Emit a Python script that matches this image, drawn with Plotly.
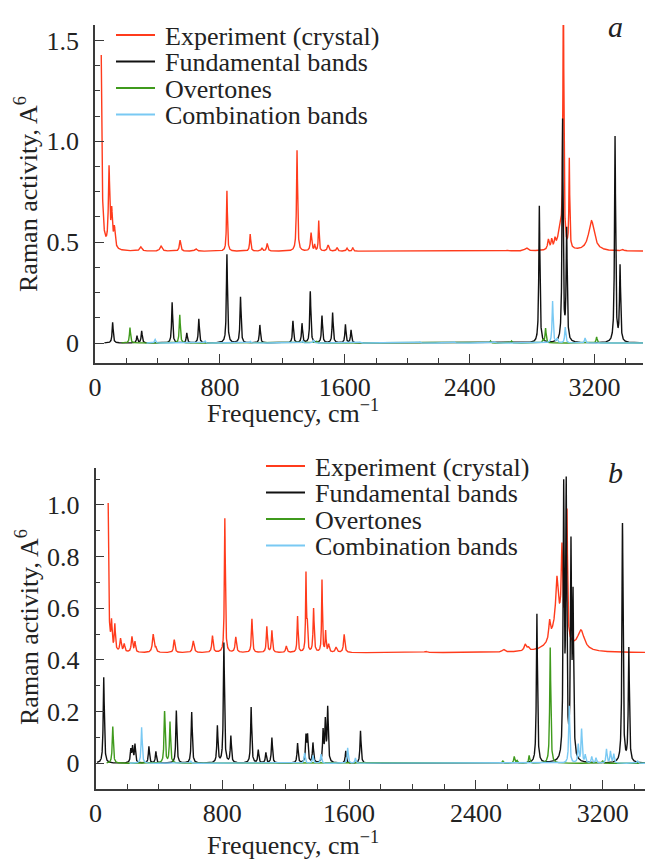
import numpy as np
import plotly.graph_objects as go

# ---------------- data ----------------
SERIES = ["Experiment (crystal)", "Fundamental bands", "Overtones", "Combination bands"]
COLORS = ["#ff3b1c", "#111111", "#3f9a1c", "#79c9f3"]

# Panel a -- experiment: peak position (cm-1), height above baseline, half width
A_EXP_BASE = 0.455
A_EXP_SPAN = [40, 3510]
A_EXP_POS = [35, 90, 107, 124, 293, 423, 545, 646, 845, 994, 1069, 1103, 1294, 1384, 1407,
             1433, 1493, 1550, 1614, 1651, 2641, 2683, 2763, 2904, 2925, 2946, 2980, 3000,
             3038, 3180, 3380]
A_EXP_AMP = [1.64, 0.39, 0.17, 0.10, 0.02, 0.025, 0.055, 0.012, 0.30, 0.085, 0.015, 0.038, 0.50,
             0.09, 0.03, 0.15, 0.03, 0.018, 0.015, 0.018, 0.004, 0.005, 0.015, 0.05, 0.045,
             0.04, 0.10, 1.30, 0.44, 0.15, 0.006]
A_EXP_HW = [6, 5, 5, 6, 8, 8, 5, 8, 3.5, 4, 5, 5, 4, 5, 3, 3, 6, 5, 5, 4, 8, 8, 12, 6, 5, 5,
            18, 3.5, 3, 22, 8]

# Panel a -- calculated bands: position, Raman activity
A_FUND_SPAN = [60, 3510]
A_FUND_POS = [113, 269, 299, 494, 588, 665, 845, 932, 1056, 1268, 1326, 1379, 1454, 1522, 1604,
              1640, 2846, 2995, 3021, 3331, 3363]
A_FUND_AMP = [0.103, 0.035, 0.06, 0.202, 0.05, 0.119, 0.44, 0.228, 0.089, 0.109, 0.096, 0.255,
              0.134, 0.15, 0.091, 0.064, 0.68, 1.10, 0.55, 1.02, 0.375]
A_OVER_SPAN = [170, 3510]
A_OVER_POS = [224, 543, 1420, 2533, 2668, 2870, 2886, 3213]
A_OVER_AMP = [0.076, 0.14, 0.008, 0.01, 0.01, 0.015, 0.073, 0.03]
A_COMB_SPAN = [330, 3510]
A_COMB_POS = [385, 705, 994, 1330, 1400, 1700, 2080, 2300, 2560, 2931, 2960, 3012, 3139]
A_COMB_AMP = [0.018, 0.01, 0.008, 0.01, 0.015, 0.005, 0.006, 0.006, 0.006, 0.208, 0.02, 0.078,
              0.025]

# Panel b -- experiment
B_EXP_BASE = 0.428
B_EXP_SPAN = [80, 3470]
B_EXP_POS = [76, 101, 122, 158, 181, 230, 249, 364, 380, 497, 617, 738, 816, 885, 987, 1081,
             1113, 1204, 1275, 1328, 1336, 1376, 1429, 1452, 1471, 1518, 1569, 2083, 2574,
             2711, 2730, 2865, 2911, 2920, 2943, 2962, 2975, 3063]
B_EXP_AMP = [1.15, 0.10, 0.10, 0.05, 0.03, 0.06, 0.04, 0.07, 0.015, 0.05, 0.045, 0.065, 0.52,
             0.06, 0.13, 0.10, 0.085, 0.025, 0.14, 0.30, 0.10, 0.17, 0.28, 0.08, 0.03, 0.02,
             0.07, 0.005, 0.01, 0.025, 0.012, 0.07, 0.16, 0.13, 0.30, 0.08, 0.48, 0.075]
B_EXP_HW = [4, 4, 4, 5, 5, 5, 4, 6, 5, 5, 6, 5, 3.5, 5, 4, 4, 4, 5, 3.5, 3, 3, 4, 3, 3, 5, 6,
            5, 10, 10, 8, 8, 6, 8, 45, 5, 5, 3.5, 25]

# Panel b -- calculated bands
B_FUND_SPAN = [10, 3470]
B_FUND_POS = [52, 223, 234, 249, 337, 381, 510, 607, 769, 810, 854, 982, 1027, 1075, 1113, 1275,
              1328, 1338, 1372, 1436, 1450, 1465, 1579, 1672, 2785, 2954, 2970, 3000, 3013,
              3325, 3365]
B_FUND_AMP = [0.333, 0.05, 0.06, 0.071, 0.065, 0.045, 0.204, 0.198, 0.142, 0.465, 0.103, 0.217,
              0.05, 0.04, 0.099, 0.077, 0.1, 0.1, 0.077, 0.12, 0.155, 0.21, 0.047, 0.125, 0.577,
              1.03, 1.03, 0.80, 0.60, 0.925, 0.441]
B_OVER_SPAN = [70, 3470]
B_OVER_POS = [109, 436, 470, 2570, 2642, 2660, 2736, 2869, 3200]
B_OVER_AMP = [0.142, 0.2, 0.159, 0.01, 0.026, 0.01, 0.03, 0.448, 0.01]
B_COMB_SPAN = [215, 3470]
B_COMB_POS = [291, 600, 1320, 1372, 1423, 1591, 1640, 2989, 3046, 3067, 3090, 3131, 3158, 3224,
              3249, 3270, 3420]
B_COMB_AMP = [0.139, 0.01, 0.04, 0.03, 0.035, 0.06, 0.02, 0.222, 0.07, 0.13, 0.03, 0.025, 0.02,
              0.054, 0.045, 0.035, 0.01]

CALC_HW = 4.0  # half width of the Lorentzian broadening of calculated bands

X_TICKS = [0, 800, 1600, 2400, 3200]
A_Y_TICKS = [0, 0.5, 1.0, 1.5]
A_Y_TEXT = ["0", "0.5", "1.0", "1.5"]
B_Y_TICKS = [0, 0.2, 0.4, 0.6, 0.8, 1.0]
B_Y_TEXT = ["0", "0.2", "0.4", "0.6", "0.8", "1.0"]


def spectrum(pos, amp, hw, span, base=0.0, step=0.5):
    x = np.arange(span[0], span[1] + step, step)
    y = np.full_like(x, base, dtype=float)
    hw = np.broadcast_to(np.asarray(hw, dtype=float), (len(pos),))
    for p, a, w in zip(pos, amp, hw):
        y += a / (1.0 + ((x - p) / w) ** 2)
    return x, y


FONT = "Liberation Serif, Times New Roman, serif"
AX = "#3a3a3a"
FS = 26

fig = go.Figure()

panels = [
    ("x", "y", [
        spectrum(A_EXP_POS, A_EXP_AMP, A_EXP_HW, A_EXP_SPAN, A_EXP_BASE),
        spectrum(A_FUND_POS, A_FUND_AMP, CALC_HW, A_FUND_SPAN),
        spectrum(A_OVER_POS, A_OVER_AMP, CALC_HW, A_OVER_SPAN),
        spectrum(A_COMB_POS, A_COMB_AMP, CALC_HW, A_COMB_SPAN),
    ]),
    ("x2", "y2", [
        spectrum(B_EXP_POS, B_EXP_AMP, B_EXP_HW, B_EXP_SPAN, B_EXP_BASE),
        spectrum(B_FUND_POS, B_FUND_AMP, CALC_HW, B_FUND_SPAN),
        spectrum(B_OVER_POS, B_OVER_AMP, CALC_HW, B_OVER_SPAN),
        spectrum(B_COMB_POS, B_COMB_AMP, CALC_HW, B_COMB_SPAN),
    ]),
]
for xa, ya, curves in panels:
    for name, color, (x, y) in zip(SERIES, COLORS, curves):
        fig.add_trace(go.Scatter(x=x, y=y, mode="lines", name=name, xaxis=xa, yaxis=ya,
                                 line=dict(color=color, width=1.4), showlegend=False,
                                 hoverinfo="skip"))


def xaxis(domain, rng, anchor):
    return dict(domain=domain, range=rng, anchor=anchor, automargin=False, showline=True,
                linecolor=AX, linewidth=1.6, showgrid=False, zeroline=False, ticks="inside",
                ticklen=9, tickwidth=1.4, tickcolor=AX, tickvals=X_TICKS,
                ticklabelstandoff=0, tickfont=dict(family=FONT, size=FS, color="#222"),
                minor=dict(ticks="inside", ticklen=5, tickwidth=1.4, tickcolor=AX,
                           dtick=200, tick0=0, showgrid=False))


def yaxis(domain, rng, anchor, vals, text, minor):
    return dict(domain=domain, range=rng, anchor=anchor, automargin=False, showline=True,
                linecolor=AX, linewidth=1.6, showgrid=False, zeroline=False, ticks="inside",
                ticklen=9, tickwidth=1.4, tickcolor=AX, tickvals=vals, ticktext=text,
                ticklabelstandoff=9, tickfont=dict(family=FONT, size=FS, color="#222"),
                minor=dict(ticks="inside", ticklen=5, tickwidth=1.4, tickcolor=AX,
                           dtick=minor, tick0=0, showgrid=False))


W, H = 648, 859
fig.update_layout(
    template="none",
    width=W, height=H, margin=dict(l=0, r=0, t=0, b=0, pad=0, autoexpand=False),
    paper_bgcolor="white", plot_bgcolor="white",
    xaxis=xaxis([95 / W, 643 / W], [0, 3510], "y"),
    yaxis=yaxis([1 - 363 / H, 1 - 25 / H], [-0.0992, 1.577], "x", A_Y_TICKS, A_Y_TEXT, 0.125),
    xaxis2=xaxis([95.5 / W, 645 / W], [0, 3467], "y2"),
    yaxis2=yaxis([1 - 789 / H, 1 - 468 / H], [-0.0995, 1.143], "x2", B_Y_TICKS, B_Y_TEXT, 0.1),
    showlegend=False,
)

ann = []
shapes = []
tf = dict(family=FONT, size=FS, color="#222")
# axis titles
for ycen in (411, 843):
    ann.append(dict(x=293 / W, y=1 - ycen / H, xref="paper", yref="paper",
                    text="Frequency, cm<sup>−1</sup>", showarrow=False, font=tf,
                    xanchor="center", yanchor="middle"))
for ycen in (194, 627):
    ann.append(dict(x=27 / W, y=1 - ycen / H, xref="paper", yref="paper",
                    text="Raman activity, A<sup>6</sup>", showarrow=False, font=tf,
                    textangle=-90, xanchor="center", yanchor="middle"))
# panel letters
for lbl, yc in (("a", 27), ("b", 472)):
    ann.append(dict(x=615 / W, y=1 - yc / H, xref="paper", yref="paper", text=f"<i>{lbl}</i>",
                    showarrow=False, font=dict(family=FONT, size=30, color="#222"),
                    xanchor="center", yanchor="middle"))
# legends
for x0, x1, xt, rows in ((116, 155, 163, (35, 61.5, 88, 114.5)),
                         (266, 305, 313, (466, 492.5, 519, 545.5))):
    for name, color, yr in zip(SERIES, COLORS, rows):
        shapes.append(dict(type="line", xref="paper", yref="paper", x0=x0 / W, x1=x1 / W,
                           y0=1 - yr / H, y1=1 - yr / H, line=dict(color=color, width=2)))
        ann.append(dict(x=xt / W, y=1 - (yr + 1) / H, xref="paper", yref="paper", text=name,
                        showarrow=False, font=tf, xanchor="left", yanchor="middle"))

fig.update_layout(annotations=ann, shapes=shapes)
fig.write_html("out.html")
